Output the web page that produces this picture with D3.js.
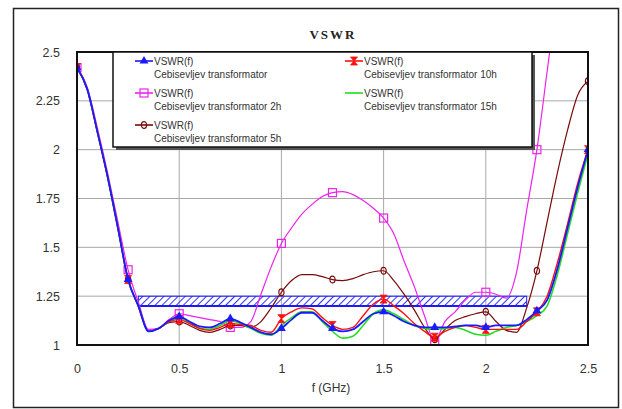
<!DOCTYPE html>
<html>
<head>
<meta charset="utf-8">
<script src="https://cdnjs.cloudflare.com/ajax/libs/d3/7.8.5/d3.min.js"></script>
<style>
body{margin:0;background:#fff;}
svg{display:block;}
</style>
</head>
<body>
<div id="chart"></div>
<script>
// frequency in GHz, step 0.05
var freq = [0,0.05,0.1,0.15,0.2,0.25,0.3,0.35,0.4,0.45,
	0.5,0.55,0.6,0.65,0.7,0.75,0.8,0.85,0.9,0.95,
	1,1.05,1.1,1.15,1.2,1.25,1.3,1.35,1.4,1.45,
	1.5,1.55,1.6,1.65,1.7,1.75,1.8,1.85,1.9,1.95,
	2,2.05,2.1,2.15,2.2,2.25,2.3,2.35,2.4,2.45,2.5];

var vswrCeb = [2.42,2.31,2.09,1.86,1.60,1.335,1.20,1.07,1.085,1.125,
	1.145,1.12,1.095,1.09,1.11,1.135,1.115,1.09,1.065,1.055,
	1.085,1.13,1.165,1.165,1.125,1.085,1.07,1.08,1.12,1.16,
	1.17,1.15,1.12,1.10,1.09,1.09,1.09,1.095,1.10,1.10,
	1.09,1.10,1.10,1.10,1.13,1.175,1.23,1.39,1.60,1.81,2.0];

var vswr2h = [2.42,2.32,2.11,1.88,1.63,1.385,1.22,1.08,1.085,1.13,
	1.16,1.15,1.14,1.13,1.12,1.09,1.09,1.12,1.26,1.40,
	1.52,1.60,1.67,1.72,1.76,1.78,1.785,1.77,1.74,1.70,
	1.65,1.57,1.43,1.30,1.15,1.02,1.12,1.17,1.23,1.27,
	1.27,1.26,1.24,1.37,1.69,2.00,2.40,2.80,null,null,null];

var vswr5h = [2.42,2.31,2.09,1.86,1.60,1.335,1.20,1.07,1.085,1.115,
	1.12,1.10,1.075,1.065,1.08,1.10,1.10,1.09,1.12,1.19,
	1.27,1.33,1.36,1.36,1.35,1.335,1.33,1.34,1.36,1.375,
	1.38,1.33,1.26,1.18,1.09,1.03,1.08,1.125,1.145,1.16,
	1.17,1.12,1.075,1.065,1.19,1.38,1.63,1.88,2.10,2.28,2.35];

var vswr10h = [2.42,2.31,2.09,1.86,1.60,1.335,1.20,1.07,1.085,1.12,
	1.13,1.11,1.085,1.075,1.09,1.11,1.105,1.10,1.075,1.065,
	1.135,1.17,1.19,1.185,1.14,1.10,1.08,1.09,1.15,1.21,
	1.235,1.20,1.16,1.11,1.07,1.04,1.07,1.09,1.10,1.09,
	1.08,1.08,1.08,1.08,1.12,1.17,1.25,1.42,1.62,1.83,2.0];

var vswr15h = [2.42,2.31,2.09,1.86,1.60,1.335,1.20,1.07,1.085,1.12,
	1.14,1.115,1.085,1.08,1.10,1.125,1.11,1.085,1.06,1.05,
	1.10,1.14,1.17,1.17,1.12,1.07,1.035,1.045,1.10,1.16,
	1.18,1.16,1.13,1.10,1.085,1.08,1.085,1.09,1.075,1.055,
	1.05,1.07,1.09,1.10,1.12,1.15,1.20,1.36,1.57,1.78,1.98];

// spec band (f from, f to, VSWR low, VSWR high)
var bandF = [0.3, 2.2];
var bandV = [1.2, 1.25];

var xTicks = [0,0.5,1,1.5,2,2.5];
var xTickLabels = ["0","0.5","1","1.5","2","2.5"];
var yTicks = [1,1.25,1.5,1.75,2,2.25,2.5];
var yTickLabels = ["1","1.25","1.5","1.75","2","2.25","2.5"];

var seriesNames = ["Cebisevljev transformator","Cebisevljev transformator 2h","Cebisevljev transformator 5h","Cebisevljev transformator 10h","Cebisevljev transformator 15h"];

var width = 622, height = 409;
var pl = 77, pr = 588, pt = 52, pb = 345;

var svg = d3.select("#chart")
	.append("svg")
	.attr("width", width)
	.attr("height", height);

var x = d3.scaleLinear().domain([0,2.5]).range([pl,pr]);
var y = d3.scaleLinear().domain([1,2.5]).range([pb,pt]);

// outer frame
svg.append("rect")
	.attr("x",13.5).attr("y",8.5)
	.attr("width",605).attr("height",399)
	.attr("fill","#fff")
	.attr("stroke","#222")
	.attr("stroke-width",1.5);

var defs = svg.append("defs");
defs.append("clipPath").attr("id","plotclip")
	.append("rect")
	.attr("x",pl).attr("y",pt)
	.attr("width",pr-pl).attr("height",pb-pt);

var hatch = defs.append("pattern")
	.attr("id","hatch")
	.attr("patternUnits","userSpaceOnUse")
	.attr("width",5).attr("height",5)
	.attr("patternTransform","rotate(45)");
hatch.append("line")
	.attr("x1",0).attr("y1",0).attr("x2",0).attr("y2",5)
	.attr("stroke","#1a1aff")
	.attr("stroke-width",1.8);

// grid
var grid = svg.append("g").attr("stroke","#a8a8a8").attr("stroke-width",1);
grid.selectAll(".gx").data(xTicks.slice(1,-1)).enter().append("line")
	.attr("x1",function(d){return x(d);}).attr("x2",function(d){return x(d);})
	.attr("y1",pt).attr("y2",pb);
grid.selectAll(".gy").data(yTicks.slice(1,-1)).enter().append("line")
	.attr("x1",pl).attr("x2",pr)
	.attr("y1",function(d){return y(d);}).attr("y2",function(d){return y(d);});

// axes labels via d3 axes
var xAxis = svg.append("g")
	.attr("transform","translate(0,"+pb+")")
	.call(d3.axisBottom(x).tickValues(xTicks).tickSize(0).tickPadding(19)
		.tickFormat(function(d,i){return xTickLabels[i];}));
var yAxis = svg.append("g")
	.attr("transform","translate("+pl+",0)")
	.call(d3.axisLeft(y).tickValues(yTicks).tickSize(0).tickPadding(17)
		.tickFormat(function(d,i){return yTickLabels[i];}));
[xAxis,yAxis].forEach(function(a){
	a.select(".domain").remove();
	a.selectAll("text")
		.attr("fill","#333")
		.style("font-family","'Liberation Sans',Arial,sans-serif")
		.style("font-size","12.5px");
});

// band
var band = svg.append("g");
band.append("rect")
	.attr("x",x(bandF[0])).attr("y",y(bandV[1]))
	.attr("width",x(bandF[1])-x(bandF[0]))
	.attr("height",y(bandV[0])-y(bandV[1]))
	.attr("fill","url(#hatch)")
	.attr("stroke","#1a1aff")
	.attr("stroke-width",1);
band.append("line")
	.attr("x1",x(bandF[0])).attr("x2",x(bandF[1]))
	.attr("y1",y(bandV[0])).attr("y2",y(bandV[0]))
	.attr("stroke","#1a1aff").attr("stroke-width",2);

// series
var series = [
	{name:seriesNames[1], values:vswr2h, color:"#ee22ee", w:1.2, marker:"square"},
	{name:seriesNames[2], values:vswr5h, color:"#7a0a0a", w:1.2, marker:"ellipse"},
	{name:seriesNames[4], values:vswr15h, color:"#22dd22", w:1.6, marker:null},
	{name:seriesNames[3], values:vswr10h, color:"#ff1010", w:1.4, marker:"hourglass"},
	{name:seriesNames[0], values:vswrCeb, color:"#1a1aff", w:1.8, marker:"triangle"}
];

var line = d3.line()
	.defined(function(d){return d[1]!==null;})
	.x(function(d){return x(d[0]);})
	.y(function(d){return y(d[1]);})
	.curve(d3.curveMonotoneX);

var plot = svg.append("g").attr("clip-path","url(#plotclip)");

function drawMarker(g, type, color){
	if(type=="square"){
		g.append("rect").attr("x",-4).attr("y",-4).attr("width",8).attr("height",8)
			.attr("fill","none").attr("stroke",color).attr("stroke-width",1.2);
	}else if(type=="ellipse"){
		g.append("ellipse").attr("rx",2.6).attr("ry",3.4)
			.attr("fill","none").attr("stroke",color).attr("stroke-width",1.2);
	}else if(type=="hourglass"){
		g.append("path").attr("d","M-3.5,-4L3.5,-4L-3.5,4L3.5,4Z")
			.attr("fill",color).attr("stroke",color).attr("stroke-width",0.8);
	}else if(type=="triangle"){
		g.append("path").attr("d",d3.symbol().type(d3.symbolTriangle).size(34)())
			.attr("fill",color);
	}
}

series.forEach(function(s){
	var pts = freq.map(function(f,i){return [f,s.values[i]];});
	plot.append("path")
		.datum(pts)
		.attr("fill","none")
		.attr("stroke",s.color)
		.attr("stroke-width",s.w)
		.attr("d",line);
	if(s.marker){
		pts.forEach(function(p,i){
			if(i%5!==0 || p[1]===null || p[1]>2.5) return;
			var g = plot.append("g").attr("transform","translate("+x(p[0])+","+y(p[1])+")");
			drawMarker(g, s.marker, s.color);
		});
	}
});

// plot border
svg.append("rect")
	.attr("x",pl).attr("y",pt)
	.attr("width",pr-pl).attr("height",pb-pt)
	.attr("fill","none")
	.attr("stroke","#111")
	.attr("stroke-width",2);

// title and axis label
svg.append("text")
	.attr("x",333).attr("y",39)
	.attr("text-anchor","middle")
	.style("font-family","'Liberation Serif','Times New Roman',serif")
	.style("font-weight","bold")
	.style("font-size","13px")
	.style("letter-spacing","2px")
	.attr("fill","#222")
	.text("VSWR");

svg.append("text")
	.attr("x",331).attr("y",392)
	.attr("text-anchor","middle")
	.style("font-family","'Liberation Sans',Arial,sans-serif")
	.style("font-size","12px")
	.attr("fill","#333")
	.text("f (GHz)");

// legend
var lx = 113, ly = 52, lw = 419, lh = 95;
svg.append("rect").attr("x",lx+3).attr("y",ly+3).attr("width",lw).attr("height",lh).attr("fill","#555");
svg.append("rect").attr("x",lx).attr("y",ly).attr("width",lw).attr("height",lh)
	.attr("fill","#fff").attr("stroke","#111").attr("stroke-width",1.5);

var legendItems = [
	{s:series[4], x0:135, row:[61,74]},
	{s:series[3], x0:345, row:[61,74]},
	{s:series[0], x0:135, row:[93,106]},
	{s:series[2], x0:345, row:[93,106]},
	{s:series[1], x0:135, row:[125,138]}
];
legendItems.forEach(function(it){
	var g = svg.append("g");
	g.append("line")
		.attr("x1",it.x0).attr("x2",it.x0+18)
		.attr("y1",it.row[0]).attr("y2",it.row[0])
		.attr("stroke",it.s.color).attr("stroke-width",1.6);
	if(it.s.marker){
		var m = g.append("g").attr("transform","translate("+(it.x0+9)+","+it.row[0]+")");
		drawMarker(m, it.s.marker, it.s.color);
	}
	g.append("text").attr("x",it.x0+19).attr("y",it.row[0]+3.5)
		.style("font-family","'Liberation Sans',Arial,sans-serif")
		.style("font-size","10px").attr("fill","#333")
		.text("VSWR(f)");
	g.append("text").attr("x",it.x0+19).attr("y",it.row[1]+3.5)
		.style("font-family","'Liberation Sans',Arial,sans-serif")
		.style("font-size","10px").attr("fill","#333")
		.text(it.s.name);
});
</script>
</body>
</html>
